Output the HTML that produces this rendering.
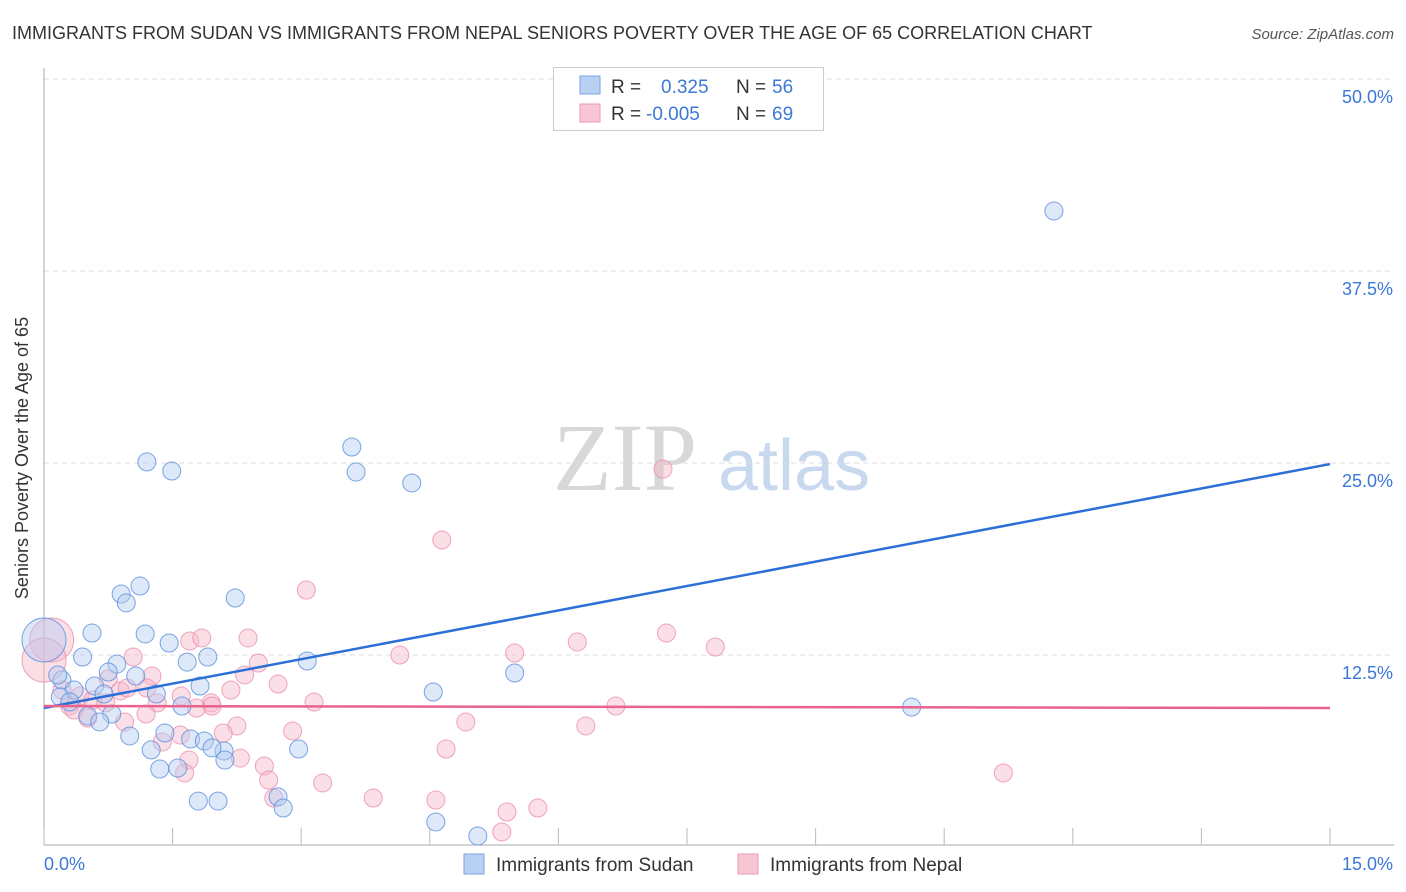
<!DOCTYPE html>
<html><head><meta charset="utf-8"><style>
body{margin:0;background:#fff;font-family:"Liberation Sans",sans-serif;}
svg{display:block}
</style></head><body>
<svg id="chart" width="1406" height="892" viewBox="0 0 1406 892">
<text x="12" y="39" font-size="18" fill="#333">IMMIGRANTS FROM SUDAN VS IMMIGRANTS FROM NEPAL SENIORS POVERTY OVER THE AGE OF 65 CORRELATION CHART</text>
<text x="1394" y="39" font-size="15" fill="#555" font-style="italic" text-anchor="end">Source: ZipAtlas.com</text>
<g>
<text x="553" y="490" font-size="96" font-family="Liberation Serif,serif" fill="#d8d8d8">ZIP</text>
<text x="718" y="490" font-size="72" fill="#c8d8ee">atlas</text>
</g>
<g id="grid"></g>
<g id="marks"></g>
<text x="25" y="455" font-size="18" fill="#333" text-anchor="middle" transform="rotate(-90 28 455)">Seniors Poverty Over the Age of 65</text>
<g>
<rect x="553.5" y="67.5" width="270" height="63" fill="#fff" stroke="#ccc"/>
<rect x="580" y="76" width="20" height="18" fill="#b8d0f2" stroke="#7aa3e0"/>
<rect x="580" y="104" width="20" height="18" fill="#f8c6d4" stroke="#ee99b0"/>
<text x="611" y="93" font-size="19" fill="#333">R =</text>
<text x="661" y="93" font-size="19" fill="#3b78d8">0.325</text>
<text x="736" y="93" font-size="19" fill="#333">N =</text>
<text x="772" y="93" font-size="19" fill="#3b78d8">56</text>
<text x="611" y="120" font-size="19" fill="#333">R =</text>
<text x="646" y="120" font-size="19" fill="#3b78d8">-0.005</text>
<text x="736" y="120" font-size="19" fill="#333">N =</text>
<text x="772" y="120" font-size="19" fill="#3b78d8">69</text>
</g>
<g>
<rect x="464" y="854" width="20" height="20" fill="#b8d0f2" stroke="#7aa3e0"/>
<text x="496" y="871" font-size="19" fill="#333">Immigrants from Sudan</text>
<rect x="738" y="854" width="20" height="20" fill="#f8c6d4" stroke="#ee99b0"/>
<text x="770" y="871" font-size="19" fill="#333">Immigrants from Nepal</text>
</g>
</svg>
<script>
const yTicks=[12.5,25,37.5,50];
const yTickLabels=["12.5%","25.0%","37.5%","50.0%"];
const xTicks=[0,1.5,3,4.5,6,7.5,9,10.5,12,13.5,15];
const xTickLabels=["0.0%","15.0%"];
const sudanX=[0,1.20,1.49,3.59,3.64,4.29,11.78,1.12,0.90,0.96,2.23,0.56,1.18,1.46,0.45,0.85,1.67,1.91,3.07,5.49,1.07,0.75,0.21,0.16,0.59,1.82,1.31,0.35,0.70,0.19,0.30,1.61,4.54,10.12,0.79,0.51,0.65,1.00,1.41,1.71,1.87,2.10,1.25,1.96,2.97,2.11,1.35,1.56,1.80,2.03,2.73,2.79,4.57,5.06];
const sudanY=[13.48,25.07,24.48,26.04,24.41,23.70,41.41,16.99,16.47,15.89,16.21,13.93,13.87,13.28,12.37,11.91,12.04,12.37,12.11,11.33,11.13,11.39,10.87,11.20,10.48,10.48,9.96,10.22,9.96,9.77,9.44,9.18,10.09,9.11,8.66,8.53,8.14,7.23,7.42,7.03,6.90,6.25,6.32,6.45,6.38,5.66,5.08,5.14,2.99,2.99,3.26,2.54,1.63,0.72];
const nepalX=[0.09,0,7.22,4.64,3.06,1.04,1.70,1.84,2.38,2.50,4.15,5.49,6.22,7.26,7.83,2.34,2.73,2.18,1.26,1.20,0.75,0.89,0.42,0.57,0.72,1.60,1.95,1.78,1.32,0.21,0.30,0.35,0.51,1.19,0.94,3.15,6.67,2.25,2.09,2.90,4.92,6.32,1.59,1.38,1.69,2.29,2.57,4.69,1.64,2.62,3.25,11.19,2.68,3.84,4.57,5.40,5.76,5.34,1.96,0.97];
const nepalY=[13.48,12.17,24.61,19.99,16.73,12.37,13.41,13.61,13.61,11.98,12.50,12.63,13.35,13.93,13.02,11.20,10.61,10.22,11.13,10.35,10.94,10.16,9.83,9.57,9.38,9.83,9.38,9.05,9.38,10.22,9.18,8.92,8.40,8.66,8.14,9.44,9.18,7.88,7.42,7.55,8.14,7.88,7.29,6.84,5.66,5.79,5.27,6.38,4.82,4.36,4.17,4.82,3.19,3.19,3.06,2.28,2.54,0.98,9.18,10.35];
const sudanBig=[0];
const nepalBig=[0,1];
const trendX=[0,15];
const sudanTrend=[9.05,24.93];
const nepalTrend=[9.18,9.05];

const X=v=>44+v/15*1286;
const Y=v=>847-v/12.5*192;
const NS="http://www.w3.org/2000/svg";
const grid=document.getElementById('grid'), marks=document.getElementById('marks');
function mk(tag,attrs,parent){const e=document.createElementNS(NS,tag);for(const k in attrs)e.setAttribute(k,attrs[k]);parent.appendChild(e);return e;}

yTicks.forEach((t,i)=>{
  const l=mk('line',{x1:44,x2:1394,y1:Y(t),y2:Y(t),stroke:'#ddd','stroke-dasharray':'5,4'},grid);
  
  
  const tx=mk('text',{x:1393,y:Y(t)+24,'font-size':18,fill:'#3b78d8','text-anchor':'end'},grid);
  tx.textContent=yTickLabels[i];
  
  
});
const ya=mk('line',{x1:44,x2:44,y1:68,y2:845,stroke:'#aaa'},grid);


const xa=mk('line',{x1:44,x2:1394,y1:845,y2:845,stroke:'#aaa'},grid);


xTicks.forEach(t=>{
  const l=mk('line',{x1:X(t),x2:X(t),y1:828,y2:845,stroke:'#bbb'},grid);
  
  
});
const xl0=mk('text',{x:44,y:870,'font-size':18,fill:'#3b78d8'},grid);
xl0.textContent=xTickLabels[0];


const xl1=mk('text',{x:1393,y:870,'font-size':18,fill:'#3b78d8','text-anchor':'end'},grid);
xl1.textContent=xTickLabels[1];



function pts(xs,ys,big,fill,stroke,name){
  xs.forEach((x,i)=>{
    const r=big.includes(i)?22:9;
    const c=mk('circle',{cx:X(x),cy:Y(ys[i]),r:r,fill:fill,'fill-opacity':0.45,stroke:stroke,'stroke-opacity':0.8,'stroke-width':1},marks);
    
    
  });
}
pts(nepalX,nepalY,nepalBig,'#f6b8ca','#ec8fab','nepal-point');
pts(sudanX,sudanY,sudanBig,'#b3cdf0','#5b8fde','sudan-point');
const bt=mk('line',{x1:X(trendX[0]),y1:Y(sudanTrend[0]),x2:X(trendX[1]),y2:Y(sudanTrend[1]),stroke:'#2c6fd6','stroke-width':2.5},marks);


const pt=mk('line',{x1:X(trendX[0]),y1:Y(nepalTrend[0]),x2:X(trendX[1]),y2:Y(nepalTrend[1]),stroke:'#e8638e','stroke-width':2.5},marks);


</script>
</body></html>
